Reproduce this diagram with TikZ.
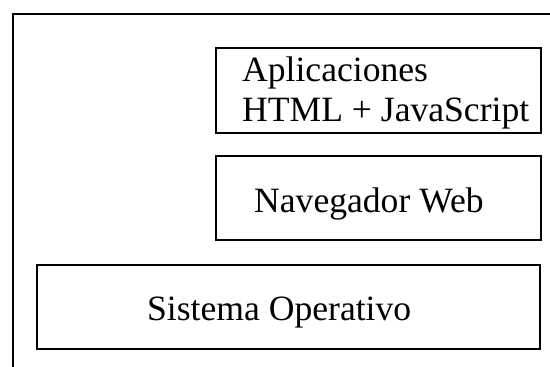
\documentclass[tikz,border=0pt]{standalone}
\usepackage{fontspec}
\setmainfont{Liberation Serif}
\begin{document}
\begin{tikzpicture}[x=1pt,y=1pt,
  layerbox/.style={draw=black,line width=1.9pt,rectangle,inner sep=0pt,anchor=south west},
  label/.style={anchor=base west,inner sep=0pt,font=\fontsize{35.6}{40}\selectfont}]
\useasboundingbox (0,0) rectangle (550,367);
\clip (0,0) rectangle (550,367);
\fill[white] (0,0) rectangle (550,367);
% outer frame (cropped at right and bottom)
\node[layerbox,minimum width=560pt,minimum height=380pt,anchor=north west] (frame) at (12,354) {};
% boxes
\node[layerbox,minimum width=325pt,minimum height=85pt] (apps) at (215,233) {};
\node[layerbox,minimum width=325pt,minimum height=84pt] (nav) at (215,126) {};
\node[layerbox,minimum width=503pt,minimum height=84pt] (so) at (36,17) {};
% texts
\node[label] (t1) at (242,285) {Aplicaciones};
\node[label] (t2) at (242,245) {HTML + JavaScript};
\node[label] (t3) at (254,154) {Navegador Web};
\node[label] (t4) at (147,46) {Sistema Operativo};
\end{tikzpicture}
\end{document}
